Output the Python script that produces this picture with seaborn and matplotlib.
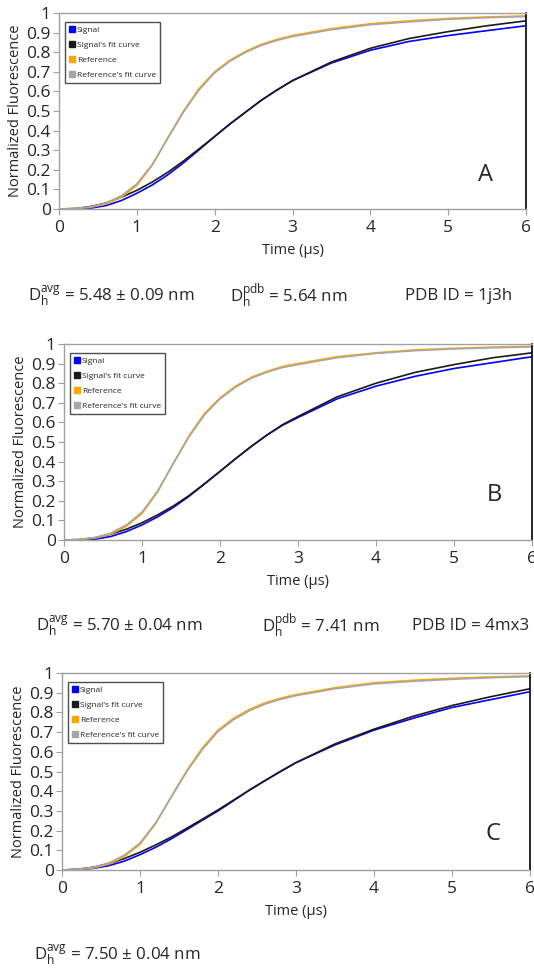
import numpy as np
import pandas as pd
import matplotlib.pyplot as plt
from matplotlib.lines import Line2D
import seaborn as sns

sns.set_style("white")
plt.rcParams['font.family'] = ['Open Sans', 'DejaVu Sans']
plt.rcParams['mathtext.fontset'] = 'custom'
plt.rcParams['mathtext.rm'] = 'Open Sans'

# time points (µs)
time = [0, 0.2, 0.4, 0.6, 0.8, 1.0, 1.2, 1.4, 1.6, 1.8, 2.0, 2.2, 2.4, 2.6, 2.8, 3.0,
        3.5, 4, 4.5, 5, 5.5, 6]

# panel A
sig_A = [0, 0, 0.004, 0.017, 0.043, 0.08, 0.123, 0.175, 0.236, 0.302, 0.37, 0.435,
         0.495, 0.555, 0.607, 0.655, 0.745, 0.81, 0.855, 0.885, 0.91, 0.935]
sigfit_A = [0, 0.002, 0.012, 0.03, 0.06, 0.095, 0.138, 0.188, 0.245, 0.307, 0.37, 0.435,
            0.495, 0.555, 0.607, 0.655, 0.75, 0.82, 0.87, 0.905, 0.935, 0.96]
ref_A = [0, 0.002, 0.008, 0.025, 0.06, 0.12, 0.225, 0.365, 0.50, 0.615, 0.70, 0.76,
         0.805, 0.84, 0.865, 0.885, 0.92, 0.945, 0.96, 0.972, 0.98, 0.985]
reffit_A = [0, 0.003, 0.01, 0.03, 0.067, 0.128, 0.228, 0.362, 0.495, 0.608, 0.695, 0.755,
            0.80, 0.835, 0.86, 0.88, 0.915, 0.94, 0.955, 0.968, 0.976, 0.982]

# panel B
sig_B = [0, 0, 0.004, 0.018, 0.043, 0.077, 0.118, 0.166, 0.222, 0.285, 0.35, 0.415,
         0.477, 0.535, 0.585, 0.625, 0.72, 0.785, 0.835, 0.875, 0.905, 0.935]
sigfit_B = [0, 0.002, 0.012, 0.03, 0.055, 0.088, 0.128, 0.173, 0.226, 0.287, 0.35, 0.415,
            0.477, 0.535, 0.588, 0.63, 0.73, 0.80, 0.855, 0.895, 0.93, 0.955]
ref_B = [0, 0.002, 0.01, 0.03, 0.07, 0.135, 0.245, 0.39, 0.53, 0.645, 0.725, 0.785,
         0.83, 0.86, 0.885, 0.90, 0.935, 0.955, 0.97, 0.978, 0.984, 0.988]
reffit_B = [0, 0.003, 0.012, 0.035, 0.077, 0.142, 0.25, 0.39, 0.525, 0.638, 0.72, 0.78,
            0.825, 0.856, 0.88, 0.895, 0.93, 0.952, 0.966, 0.975, 0.981, 0.985]

# panel C
sig_C = [0, 0.002, 0.008, 0.022, 0.045, 0.078, 0.115, 0.158, 0.205, 0.253, 0.30, 0.352,
         0.405, 0.453, 0.50, 0.545, 0.635, 0.71, 0.77, 0.825, 0.865, 0.905]
sigfit_C = [0, 0.004, 0.014, 0.032, 0.058, 0.09, 0.127, 0.167, 0.212, 0.258, 0.305, 0.355,
            0.405, 0.453, 0.50, 0.545, 0.64, 0.715, 0.78, 0.835, 0.88, 0.92]
ref_C = [0, 0.003, 0.01, 0.03, 0.068, 0.13, 0.235, 0.372, 0.505, 0.62, 0.71, 0.77,
         0.815, 0.848, 0.872, 0.89, 0.925, 0.95, 0.963, 0.973, 0.98, 0.985]
reffit_C = [0, 0.004, 0.013, 0.036, 0.075, 0.137, 0.238, 0.37, 0.50, 0.612, 0.703, 0.763,
            0.808, 0.842, 0.866, 0.885, 0.92, 0.945, 0.958, 0.968, 0.976, 0.982]

series_names = ["Signal", "Signal's fit curve", "Reference", "Reference's fit curve"]
colors = ["#0000ff", "#1a1a1a", "#ffa500", "#a6a6a6"]
letters = ["A", "B", "C"]
info = [
    [r"$\mathregular{D_h^{avg}}$ = 5.48 ± 0.09 nm", r"$\mathregular{D_h^{pdb}}$ = 5.64 nm", "PDB ID = 1j3h"],
    [r"$\mathregular{D_h^{avg}}$ = 5.70 ± 0.04 nm", r"$\mathregular{D_h^{pdb}}$ = 7.41 nm", "PDB ID = 4mx3"],
    [r"$\mathregular{D_h^{avg}}$ = 7.50 ± 0.04 nm"],
]
panels = [
    [sig_A, sigfit_A, ref_A, reffit_A],
    [sig_B, sigfit_B, ref_B, reffit_B],
    [sig_C, sigfit_C, ref_C, reffit_C],
]

W, H = 534, 968
fig = plt.figure(figsize=(W / 100, H / 100), dpi=100)

# pixel boxes: left, right, top, bottom
boxes = [(59, 526, 13, 209), (64, 532, 344, 540), (62, 530, 673, 870)]
letter_pos = [(486, 175), (494, 495), (493, 834)]
text_y = [296, 626, 955]
text_x = [[28, 230, 405], [36, 262, 412], [34]]

for i, (l, r, t, b) in enumerate(boxes):
    ax = fig.add_axes([l / W, (H - b) / H, (r - l) / W, (b - t) / H])
    df = pd.DataFrame({"time": time})
    for name, vals, c in zip(series_names, panels[i], colors):
        df[name] = vals
        sns.lineplot(data=df, x="time", y=name, color=c, lw=1.2, ax=ax)
    ax.set_xlim(0, 6)
    ax.set_ylim(0, 1)
    ax.set_xticks(range(7))
    ax.set_yticks(np.arange(0, 1.01, 0.1))
    ax.set_yticklabels(["0"] + [f"{v:.1f}" for v in np.arange(0.1, 0.95, 0.1)] + ["1"])
    ax.tick_params(axis="both", labelsize=12.5, length=4, width=0.8,
                   color="#a0a0a0", pad=2, direction="out", bottom=True, left=True)
    ax.tick_params(axis="x", pad=4)
    ax.set_xlabel("Time (µs)", fontsize=10.5, labelpad=5)
    ax.set_ylabel("Normalized Fluorescence", fontsize=10.5, labelpad=2)
    for s in ["left", "bottom", "top"]:
        ax.spines[s].set_color("#a0a0a0")
        ax.spines[s].set_linewidth(1)
    ax.spines["right"].set_color("black")
    ax.spines["right"].set_linewidth(1.2)

    handles = [Line2D([], [], ls="none", marker="s", markersize=4.5, color=c) for c in colors]
    leg = ax.legend(handles, series_names, loc="upper left", bbox_to_anchor=(0.013, 0.955),
                    fontsize=6, frameon=True, fancybox=False, handlelength=0.6,
                    handletextpad=0.3, labelspacing=0.85, borderpad=0.5, borderaxespad=0)
    leg.get_frame().set_edgecolor("#222222")
    leg.get_frame().set_linewidth(1)

    lx, ly = letter_pos[i]
    fig.text(lx / W, 1 - ly / H, letters[i], fontsize=17, ha="center", va="center")
    for txt, x in zip(info[i], text_x[i]):
        fig.text(x / W, 1 - text_y[i] / H, txt, fontsize=12.2, ha="left", va="center")

fig.savefig("out.png", dpi=100)
